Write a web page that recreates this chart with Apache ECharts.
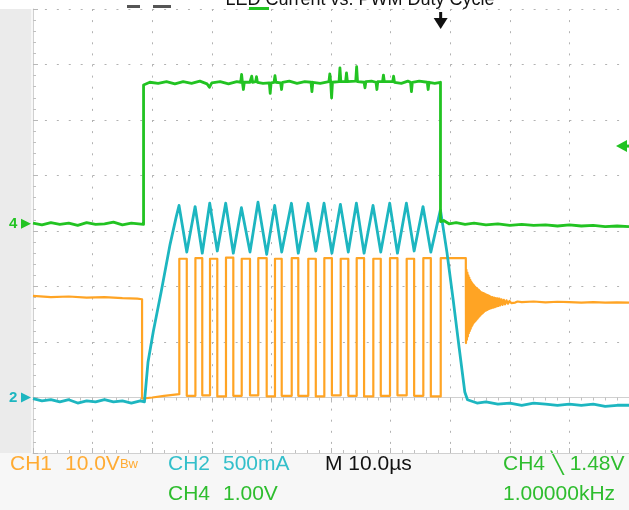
<!DOCTYPE html>
<html><head><meta charset="utf-8">
<script src="https://cdn.jsdelivr.net/npm/echarts@6/dist/echarts.min.js"></script>
<style>html,body{margin:0;padding:0;background:#f7f7f7}#c{width:629px;height:510px}</style>
</head><body><div id="c"></div><script>
// ---- time axis: M 10.0 us / div, 10 divisions ----
const timeMin = 0, timeMax = 100, timeDiv = 10;
// ---- channel scales (per division) ----
const ch1Range = [-10, 70];     // CH1 10.0 V/div
const ch2Range = [-0.5, 3.5];   // CH2 500 mA/div
const ch4Range = [-4.13, 3.87]; // CH4 1.00 V/div
const trigTime = 68.4;          // trigger position (us)
const trigLevel = 1.40;         // CH4 trigger level marker (V)

// ---- CH1 (orange, V) ----
const ch1Lead = [[0,18.3],[3,18.1],[6,18.2],[9,18.0],[12,18.1],[15,17.9],[17.5,17.8],[18.3,17.7],[18.3,-0.2],[20,0.0],[22,0.3],[24.55,0.6]];
const pwmRise = [24.55,27.25,29.70,32.38,35.02,37.80,40.60,43.41,46.19,48.88,51.63,54.31,57.10,59.90,62.70,65.49,68.41];
const pwmFall = [25.80,28.40,30.92,33.61,36.41,39.21,41.73,44.51,47.45,50.15,52.90,55.55,58.35,61.15,63.95,66.75,72.62];
const pwmHigh = [25.0,25.1,25.0,25.2,25.0,25.1,25.0,25.1,25.0,25.1,25.0,25.1,25.0,25.1,25.0,25.1,25.1];
const pwmLow  = [0.3,0.4,0.2,0.3,0.4,0.2,0.3,0.3,0.2,0.4,0.3,0.2,0.3,0.4,0.3,0.2];
const ch1Ring = [[72.65,9.8],[72.72,23.0],[72.80,10.4],[72.88,22.5],[72.96,11.0],[73.04,22.0],[73.12,11.6],[73.20,21.6],[73.28,12.0],[73.36,21.2],[73.44,12.4],[73.52,20.9],[73.60,12.8],[73.68,20.6],[73.76,13.1],[73.84,20.4],[73.92,13.4],[74.00,20.2],[74.08,13.6],[74.16,20.0],[74.24,13.8],[74.32,19.8],[74.40,14.0],[74.48,19.7],[74.56,14.2],[74.64,19.5],[74.72,14.4],[74.80,19.4],[74.88,14.6],[74.96,19.2],[75.05,14.8],[75.15,19.0],[75.25,15.0],[75.35,18.9],[75.45,15.2],[75.55,18.8],[75.65,15.4],[75.75,18.7],[75.85,15.6],[75.95,18.6],[76.05,15.7],[76.15,18.5],[76.25,15.8],[76.35,18.4],[76.45,15.9],[76.55,18.3],[76.65,16.0],[76.75,18.2],[76.90,16.1],[77.05,18.1],[77.20,16.2],[77.35,18.0],[77.50,16.3],[77.65,17.9],[77.80,16.4],[77.95,17.85],[78.10,16.5],[78.25,17.8],[78.40,16.6],[78.60,17.7],[78.80,16.7],[79.00,17.6],[79.20,16.8],[79.45,17.5],[79.70,16.9],[79.95,17.4],[80.25,17.0],[80.55,17.35],[80.90,17.1],[81.30,17.3]];
const ch1Tail = [[82,17.2],[84,17.3],[86,17.15],[88,17.25],[90,17.2],[92,17.1],[94,17.2],[96,17.1],[98,17.15],[100,17.1]];

// ---- CH2 (cyan, A) ----
const ch2Lead = [[0,-0.01],[1.5,-0.03],[3,-0.02],[4.5,-0.04],[6,-0.02],[7.5,-0.05],[9,-0.03],[10.5,-0.04],[12,-0.02],[13.5,-0.04],[15,-0.03],[16.5,-0.05],[18.0,-0.03],[18.7,-0.04],[18.85,0.05],[19.3,0.32],[20.2,0.6],[21.5,0.95],[23.0,1.38],[24.0,1.62]];
const ch2Peak   = [1.73,1.72,1.75,1.75,1.71,1.76,1.73,1.75,1.75,1.75,1.74,1.75,1.73,1.75,1.75,1.72,1.69];
const ch2Trough = [1.31,1.30,1.32,1.30,1.31,1.29,1.31,1.30,1.32,1.30,1.31,1.30,1.31,1.30,1.32,1.31];
const ch2Tail = [[69.45,1.31],[70.5,0.88],[71.5,0.45],[72.45,0.05],[72.9,-0.02],[74.5,-0.05],[76,-0.04],[78,-0.06],[80,-0.05],[82,-0.07],[84,-0.05],[86,-0.06],[88,-0.07],[90,-0.06],[92,-0.07],[94,-0.06],[96,-0.08],[98,-0.07],[100,-0.07]];

// ---- CH4 (green, V) ----
const ch4Data = [[0,0.01],[1.5,-0.02],[3,0.02],[4.5,-0.01],[6,0.01],[7.5,-0.03],[9,0.02],[10.5,-0.01],[12,0.0],[13.5,0.03],[15,-0.02],[16.5,0.01],[18.55,-0.01],
[18.55,2.50],[19.6,2.55],[21.0,2.53],[22.4,2.56],[23.8,2.52],[25.2,2.56],[26.6,2.53],[28.0,2.57],[29.2,2.52],[29.6,2.46],[30.0,2.54],[31.4,2.56],[32.8,2.52],[34.2,2.56],
[34.85,2.55],[35.0,2.69],[35.15,2.54],[35.3,2.42],[35.45,2.55],[36.4,2.55],[36.7,2.66],[36.85,2.55],[37.35,2.56],[37.5,2.65],[37.65,2.55],[38.6,2.53],
[39.65,2.54],[39.8,2.35],[39.95,2.54],[40.45,2.55],[40.6,2.67],[40.75,2.55],[41.55,2.54],[41.7,2.42],[41.85,2.55],[43.0,2.57],[44.3,2.53],[45.6,2.56],[46.65,2.55],[46.8,2.38],[46.95,2.55],[48.2,2.53],
[49.65,2.56],[49.8,2.70],[49.95,2.55],[50.1,2.27],[50.25,2.55],[51.35,2.56],[51.5,2.81],[51.65,2.56],[52.45,2.56],[52.6,2.72],[52.75,2.56],[54.15,2.57],[54.3,2.83],[54.45,2.56],[55.55,2.55],[55.7,2.45],[55.85,2.56],[56.8,2.57],[57.55,2.55],[57.7,2.42],[57.85,2.56],[58.65,2.56],[58.8,2.68],[58.95,2.56],[60.35,2.56],[60.5,2.66],[60.65,2.55],[61.8,2.53],[62.9,2.57],[63.35,2.55],[63.5,2.38],[63.65,2.55],[64.8,2.57],[66.15,2.55],[66.3,2.42],[66.45,2.55],[67.4,2.53],[68.37,2.55],
[68.37,0.04],[68.9,0.06],[69.8,0.0],[71,0.02],[72.5,-0.01],[74,0.01],[76,-0.02],[78,0.0],[80,-0.03],[82,-0.01],[84,-0.03],[86,-0.02],[88,-0.04],[90,-0.02],[92,-0.04],[94,-0.03],[96,-0.05],[98,-0.04],[100,-0.05]];

// ---- readout texts ----
const readoutRow1 = [
  {x:10, text:'CH1', color:'#ffab33'},
  {x:65, text:'10.0V{b|Bw}', color:'#ffab33'},
  {x:168, text:'CH2', color:'#33bfca'},
  {x:223, text:'500mA', color:'#33bfca'},
  {x:325, text:'M 10.0\u00b5s', color:'#111111'},
  {x:503, text:'CH4 \u2572 1.48V', color:'#2ebd2e'}
];
const readoutRow2 = [
  {x:168, text:'CH4', color:'#2ebd2e'},
  {x:223, text:'1.00V', color:'#2ebd2e'},
  {x:503, text:'1.00000kHz', color:'#2ebd2e'}
];
const titleText = 'LED Current vs. PWM Duty Cycle';

// build tables
const ch1Data = ch1Lead.slice();
for (let i = 0; i < pwmRise.length; i++) {
  const lowBefore = i === 0 ? 0.6 : pwmLow[i-1];
  ch1Data.push([pwmRise[i], lowBefore], [pwmRise[i], pwmHigh[i]], [pwmFall[i], pwmHigh[i]]);
  if (i < pwmLow.length) ch1Data.push([pwmFall[i], pwmLow[i]]);
}
ch1Data.push(...ch1Ring, ...ch1Tail);

const ch2Data = ch2Lead.slice();
for (let i = 0; i < pwmRise.length; i++) {
  ch2Data.push([pwmRise[i] - 0.05, ch2Peak[i]]);
  if (i < ch2Trough.length) ch2Data.push([pwmFall[i], ch2Trough[i]]);
}
ch2Data.push(...ch2Tail);

const C_OR = '#ffa424', C_CY = '#1db6c0', C_GR = '#22c322';
const gridCol = '#b2b2b2';
const tickAxis = (pos) => ({
  type:'value', position:pos, min:timeMin, max:timeMax, interval:timeDiv,
  axisLabel:{show:false},
  axisLine:{show:true, lineStyle:{color:'#d0d0d0', width:1}},
  axisTick:{show:true, inside:true, length:5, lineStyle:{color:'#b8b8b8'}},
  minorTick:{show:true, splitNumber:5, length:3, lineStyle:{color:'#c0c0c0'}},
  splitLine:{show:false}
});

const chart = echarts.init(document.getElementById('c'), null, {renderer:'canvas'});
const xMain = tickAxis('bottom');
xMain.splitLine = {show:true, lineStyle:{color:gridCol, type:[2, 9.1], width:1}};
chart.setOption({
  animation:false,
  backgroundColor:'#f7f7f7',
  grid:{left:33, right:0, top:9, bottom:57, show:true, backgroundColor:'#ffffff', borderWidth:0},
  xAxis:[xMain, tickAxis('top')],
  yAxis:[
    {type:'value', min:0, max:8, interval:1, axisLabel:{show:false},
     axisLine:{show:true, lineStyle:{color:'#d0d0d0'}},
     axisTick:{show:true, inside:true, length:5, lineStyle:{color:'#b8b8b8'}},
     minorTick:{show:true, splitNumber:5, length:3, lineStyle:{color:'#c0c0c0'}},
     splitLine:{show:true, lineStyle:{color:gridCol, type:[2, 9.92], width:1}}},
    {type:'value', min:ch1Range[0], max:ch1Range[1], show:false, splitLine:{show:false}},
    {type:'value', min:ch2Range[0], max:ch2Range[1], show:false, splitLine:{show:false}},
    {type:'value', min:ch4Range[0], max:ch4Range[1], show:false, splitLine:{show:false}}
  ],
  series:[
    {name:'CH1', type:'line', xAxisIndex:0, yAxisIndex:1, data:ch1Data, showSymbol:false, symbol:'none',
     lineStyle:{color:C_OR, width:2.2, join:'round'}, z:2},
    {name:'CH2', type:'line', xAxisIndex:0, yAxisIndex:2, data:ch2Data, showSymbol:false, symbol:'none',
     lineStyle:{color:C_CY, width:2.8, join:'round'}, z:3},
    {name:'CH4', type:'line', xAxisIndex:0, yAxisIndex:3, data:ch4Data, showSymbol:false, symbol:'none',
     lineStyle:{color:C_GR, width:2.8, join:'round'}, z:4}
  ]
});

// markers tied to the axes
const g4 = chart.convertToPixel({xAxisIndex:0, yAxisIndex:3}, [0, 0])[1];
const g2 = chart.convertToPixel({xAxisIndex:0, yAxisIndex:2}, [0, 0])[1];
const tl = chart.convertToPixel({xAxisIndex:0, yAxisIndex:3}, [0, trigLevel])[1];
const tx = chart.convertToPixel({xAxisIndex:0, yAxisIndex:3}, [trigTime, 0])[0];
const txtFont = '21px "Liberation Sans", Arial, sans-serif';
const gfx = [
  {type:'rect', shape:{x:0, y:9, width:31, height:444}, style:{fill:'#ebebeb'}, z:-5, silent:true},
  {type:'rect', shape:{x:0, y:0, width:629, height:9}, style:{fill:'#ffffff'}, z:-5, silent:true},
  {type:'text', x:360, y:0, style:{text:titleText, font:'18px "Liberation Sans", Arial, sans-serif', fill:'#111', align:'center', verticalAlign:'middle'}},
  {type:'rect', shape:{x:127, y:5, width:13, height:3}, style:{fill:'#555'}},
  {type:'rect', shape:{x:153, y:5, width:18, height:3}, style:{fill:'#555'}},
  {type:'rect', shape:{x:249, y:7, width:20, height:3}, style:{fill:C_GR}},
  // channel ground markers
  {type:'text', x:9, y:g4, style:{text:'4', font:'bold 15px "Liberation Sans", Arial, sans-serif', fill:C_GR, verticalAlign:'middle'}},
  {type:'polygon', shape:{points:[[21,g4-5],[31,g4],[21,g4+5]]}, style:{fill:C_GR}},
  {type:'text', x:9, y:g2, style:{text:'2', font:'bold 15px "Liberation Sans", Arial, sans-serif', fill:C_CY, verticalAlign:'middle'}},
  {type:'polygon', shape:{points:[[21,g2-5],[31,g2],[21,g2+5]]}, style:{fill:C_CY}},
  // trigger level marker (right)
  {type:'polygon', shape:{points:[[616,tl],[627,tl-6],[627,tl+6]]}, style:{fill:C_GR}},
  {type:'rect', shape:{x:624, y:tl-1.5, width:5, height:3}, style:{fill:C_GR}},
  // trigger position marker (top)
  {type:'rect', shape:{x:tx-1.5, y:12, width:3, height:7}, style:{fill:'#111'}},
  {type:'polygon', shape:{points:[[tx-7,18],[tx+7,18],[tx,29]]}, style:{fill:'#111'}}
];
readoutRow1.forEach(r => gfx.push({type:'text', x:r.x, y:464, style:{text:r.text, font:txtFont, fill:r.color, verticalAlign:'middle', rich:{b:{fontSize:13, fill:r.color, font:'13px "Liberation Sans", Arial, sans-serif'}}}}));
readoutRow2.forEach(r => gfx.push({type:'text', x:r.x, y:494, style:{text:r.text, font:txtFont, fill:r.color, verticalAlign:'middle'}}));
chart.setOption({graphic:gfx});
</script></body></html>
